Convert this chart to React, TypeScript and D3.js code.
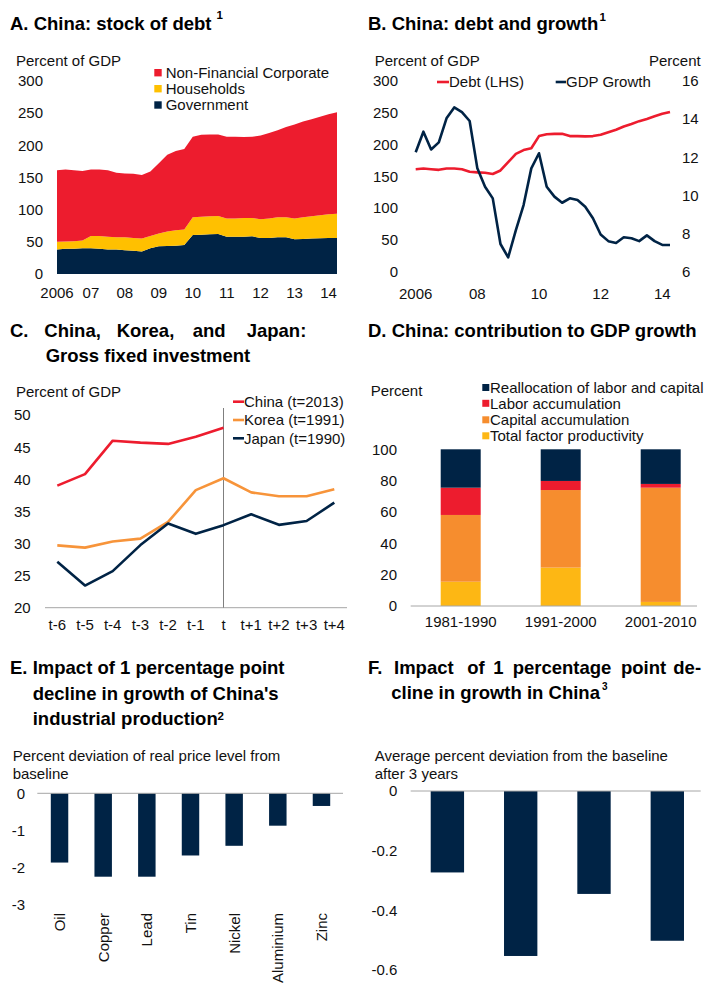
import React from "react";
import * as d3 from "d3";

const FONT = "'Liberation Sans', Arial, Helvetica, sans-serif";
const NAVY = "#002345";
const RED = "#ED1C2E";
const HH_YELLOW = "#FFC000";
const CAP_ORANGE = "#F68D2E";
const TFP_YELLOW = "#FDB714";
const KOREA_ORANGE = "#F7943A";
const AXIS_GREY = "#A6A6A6";
const TXT = "#111111";

// ---------- Panel A / B data (quarterly, 2006Q1 - 2014Q2) ----------
const quarterLabels = [
  "2006Q1", "2006Q2", "2006Q3", "2006Q4",
  "2007Q1", "2007Q2", "2007Q3", "2007Q4",
  "2008Q1", "2008Q2", "2008Q3", "2008Q4",
  "2009Q1", "2009Q2", "2009Q3", "2009Q4",
  "2010Q1", "2010Q2", "2010Q3", "2010Q4",
  "2011Q1", "2011Q2", "2011Q3", "2011Q4",
  "2012Q1", "2012Q2", "2012Q3", "2012Q4",
  "2013Q1", "2013Q2", "2013Q3", "2013Q4",
  "2014Q1", "2014Q2",
];
const governmentDebt = [
  38, 39, 39, 40,
  40, 39, 38, 38,
  37, 36, 35, 40,
  43, 43.5, 44, 45,
  60.5, 61, 61.5, 62,
  58, 58, 58, 58.5,
  56, 56, 57, 57,
  54, 54.5, 55, 55.5,
  56, 56,
];
const householdDebt = [
  12, 11.5, 12, 12,
  19, 20, 20, 19,
  20, 20, 20, 19,
  20, 22.5, 24, 24,
  27.5, 28, 28, 28,
  28, 28, 29, 28.5,
  29, 30, 31, 31,
  32, 33.5, 34.5, 35.5,
  36.6, 37.6,
];
const corporateDebt = [
  111, 111.5, 110, 108,
  103, 103, 103, 100,
  99, 99.5, 98.5, 100,
  109, 119, 123, 125,
  125, 127, 127, 126.5,
  127, 127, 125.5, 126,
  130, 133, 135, 140,
  146, 148.5, 150.5, 153,
  155.4, 157.4,
];
const gdpGrowth = [
  12.25, 13.33, 12.4, 12.77,
  14.03, 14.6, 14.35, 13.89,
  11.41, 10.45, 9.84, 7.45,
  6.75, 8.18, 9.49, 11.41,
  12.2, 10.45, 9.93, 9.61,
  9.84, 9.75, 9.4, 8.8,
  7.95, 7.6, 7.5, 7.8,
  7.75, 7.6, 7.9, 7.6,
  7.4, 7.4,
];
const aSeriesNames = ["Non-Financial Corporate", "Households", "Government"];
const aYTicks = [0, 50, 100, 150, 200, 250, 300];
const aXTickYears = [2006, 2007, 2008, 2009, 2010, 2011, 2012, 2013, 2014];
const aXTickLabels = ["2006", "07", "08", "09", "10", "11", "12", "13", "14"];
const bXTickYears = [2006, 2008, 2010, 2012, 2014];
const bXTickLabels = ["2006", "08", "10", "12", "14"];
const bLeftTicks = [0, 50, 100, 150, 200, 250, 300];
const bRightTicks = [6, 8, 10, 12, 14, 16];

// ---------- Panel C data ----------
const cPeriods = ["t-6", "t-5", "t-4", "t-3", "t-2", "t-1", "t", "t+1", "t+2", "t+3", "t+4"];
const chinaInvestment = [39.0, 40.8, 46.0, 45.7, 45.5, 46.6, 48.0];
const koreaInvestment = [29.7, 29.35, 30.3, 30.75, 33.35, 38.3, 40.15, 37.95, 37.35, 37.35, 38.45];
const japanInvestment = [27.15, 23.45, 25.7, 29.75, 33.1, 31.5, 32.85, 34.55, 32.9, 33.5, 36.35];
const cSeriesNames = ["China (t=2013)", "Korea (t=1991)", "Japan (t=1990)"];
const cYTicks = [20, 25, 30, 35, 40, 45, 50];

// ---------- Panel D data ----------
const dDecades = ["1981-1990", "1991-2000", "2001-2010"];
const tfpShare = [15.5, 24.5, 2.6];
const capitalShare = [42.6, 49.5, 72.9];
const laborShare = [17.4, 5.8, 2.4];
const reallocationShare = [24.5, 20.2, 22.1];
const dLegendNames = [
  "Reallocation of labor and capital",
  "Labor accumulation",
  "Capital accumulation",
  "Total factor productivity",
];
const dYTicks = [0, 20, 40, 60, 80, 100];

// ---------- Panel E data ----------
const commodities = ["Oil", "Copper", "Lead", "Tin", "Nickel", "Aluminium", "Zinc"];
const priceDeviation = [-1.86, -2.24, -2.24, -1.67, -1.41, -0.87, -0.34];
const eYTicks = [0, -1, -2, -3];

// ---------- Panel F data ----------
const fGroups = ["Group 1", "Group 2", "Group 3", "Group 4"];
const fDeviation = [-0.273, -0.553, -0.345, -0.502];
const fYTicks = [0, -0.2, -0.4, -0.6];

const qToNum = (q: string) => +q.slice(0, 4) + (+q.slice(5) - 1) / 4;

const tickStyle = { fontSize: 15, fill: TXT, fontFamily: FONT } as const;
const titleStyle = { fontSize: 18.5, fontWeight: 700, fill: "#000", fontFamily: FONT } as const;

function PanelA() {
  const x = d3.scaleLinear().domain([2006, 2014.25]).range([57, 337]);
  const y = d3.scaleLinear().domain([0, 300]).range([274, 80.7]);
  const rows = quarterLabels.map((q, i) => ({
    t: qToNum(q),
    gov: governmentDebt[i],
    hh: householdDebt[i],
    corp: corporateDebt[i],
  }));
  const stacked = d3.stack<any>().keys(["gov", "hh", "corp"])(rows);
  const area = d3
    .area<any>()
    .x((d) => x(d.data.t))
    .y0((d) => y(d[0]))
    .y1((d) => y(d[1]));
  const colors = [NAVY, HH_YELLOW, RED];
  const legendColors = [RED, HH_YELLOW, NAVY];
  const legendY = [72.7, 88.7, 105];
  return (
    <g>
      <text x={10} y={29.5} style={titleStyle}>A. China: stock of debt</text>
      <text x={216.5} y={18.5} style={{ ...titleStyle, fontSize: 11.5 }}>1</text>
      <text x={16} y={66} style={tickStyle}>Percent of GDP</text>
      {stacked.map((s, i) => (
        <path key={i} d={area(s) || ""} fill={colors[i]} stroke="none" />
      ))}
      {aYTicks.map((v) => (
        <text key={v} x={43} y={y(v)} dy="0.36em" textAnchor="end" style={tickStyle}>{v}</text>
      ))}
      {aXTickYears.map((v, i) => (
        <text key={v} x={x(v)} y={293} dy="0.36em" textAnchor="middle" style={tickStyle}>{aXTickLabels[i]}</text>
      ))}
      {aSeriesNames.map((n, i) => (
        <g key={n}>
          <rect x={154.3} y={legendY[i] - 3.7} width={7.4} height={7.4} fill={legendColors[i]} />
          <text x={165.7} y={legendY[i]} dy="0.36em" style={tickStyle}>{n}</text>
        </g>
      ))}
    </g>
  );
}

function PanelB() {
  const x = d3.scaleLinear().domain([2006, 2014.25]).range([415.7, 670]);
  const yL = d3.scaleLinear().domain([0, 300]).range([271.7, 80.7]);
  const yR = d3.scaleLinear().domain([6, 16]).range([271.7, 80.7]);
  const t = quarterLabels.map(qToNum);
  const total = quarterLabels.map((_, i) => governmentDebt[i] + householdDebt[i] + corporateDebt[i]);
  const debtLine = d3
    .line<number>()
    .x((_, i) => x(t[i]))
    .y((d) => yL(d));
  const gdpLine = d3
    .line<number>()
    .x((_, i) => x(t[i]))
    .y((d) => yR(d));
  return (
    <g>
      <text x={368} y={29.5} style={titleStyle}>B. China: debt and growth</text>
      <text x={599.5} y={20.7} style={{ ...titleStyle, fontSize: 11.5 }}>1</text>
      <text x={374.7} y={65.5} style={tickStyle}>Percent of GDP</text>
      <text x={700.7} y={65.5} textAnchor="end" style={tickStyle}>Percent</text>
      {bLeftTicks.map((v) => (
        <text key={v} x={398} y={yL(v)} dy="0.36em" textAnchor="end" style={tickStyle}>{v}</text>
      ))}
      {bRightTicks.map((v) => (
        <text key={v} x={682} y={yR(v)} dy="0.36em" textAnchor="start" style={tickStyle}>{v}</text>
      ))}
      {bXTickYears.map((v, i) => (
        <text key={v} x={x(v)} y={293.3} dy="0.36em" textAnchor="middle" style={tickStyle}>{bXTickLabels[i]}</text>
      ))}
      <path d={debtLine(total) || ""} fill="none" stroke={RED} strokeWidth={2.6} strokeLinejoin="round" />
      <path d={gdpLine(gdpGrowth) || ""} fill="none" stroke={NAVY} strokeWidth={2.6} strokeLinejoin="round" />
      <line x1={437} x2={449} y1={82} y2={82} stroke={RED} strokeWidth={2.6} />
      <text x={449} y={82} dy="0.36em" style={tickStyle}>Debt (LHS)</text>
      <line x1={555.7} x2={566} y1={82} y2={82} stroke={NAVY} strokeWidth={2.6} />
      <text x={566} y={82} dy="0.36em" style={tickStyle}>GDP Growth</text>
    </g>
  );
}

function PanelC() {
  const x = d3.scalePoint<string>().domain(cPeriods).range([57.3, 334.3]);
  const y = d3.scaleLinear().domain([20, 50]).range([607.7, 415]);
  const line = d3
    .line<number>()
    .x((_, i) => x(cPeriods[i]) as number)
    .y((d) => y(d));
  const series = [chinaInvestment, koreaInvestment, japanInvestment];
  const colors = [RED, KOREA_ORANGE, NAVY];
  const legendY = [401.7, 420, 438.3];
  const tx = x("t") as number;
  return (
    <g>
      <text y={337} style={titleStyle}>
        <tspan x={10}>C.</tspan>
        <tspan x={44.3}>China,</tspan>
        <tspan x={116.7}>Korea,</tspan>
        <tspan x={192.7}>and</tspan>
        <tspan x={246.7}>Japan:</tspan>
      </text>
      <text x={45.7} y={362.3} style={titleStyle}>Gross fixed investment</text>
      <text x={16} y={397} style={tickStyle}>Percent of GDP</text>
      {cYTicks.map((v) => (
        <text key={v} x={30.7} y={y(v)} dy="0.36em" textAnchor="end" style={tickStyle}>{v}</text>
      ))}
      <line x1={45} x2={347} y1={y(20)} y2={y(20)} stroke={AXIS_GREY} strokeWidth={1} />
      <line x1={tx} x2={tx} y1={408} y2={y(20)} stroke="#7F7F7F" strokeWidth={1} />
      {cPeriods.map((p) => (
        <text key={p} x={x(p)} y={625} dy="0.36em" textAnchor="middle" style={tickStyle}>{p}</text>
      ))}
      {series.map((s, i) => (
        <path key={i} d={line(s) || ""} fill="none" stroke={colors[i]} strokeWidth={2.6} strokeLinejoin="round" />
      ))}
      {cSeriesNames.map((n, i) => (
        <g key={n}>
          <line x1={233} x2={244} y1={legendY[i]} y2={legendY[i]} stroke={colors[i]} strokeWidth={2.6} />
          <text x={244} y={legendY[i]} dy="0.36em" style={tickStyle}>{n}</text>
        </g>
      ))}
    </g>
  );
}

function PanelD() {
  const x = d3.scaleBand<string>().domain(dDecades).range([410.7, 710.7]).paddingInner(0.6).paddingOuter(0.3);
  const y = d3.scaleLinear().domain([0, 100]).range([606, 449.3]);
  const rows = dDecades.map((d, i) => ({
    decade: d,
    tfp: tfpShare[i],
    capital: capitalShare[i],
    labor: laborShare[i],
    realloc: reallocationShare[i],
  }));
  const keys = ["tfp", "capital", "labor", "realloc"];
  const stacked = d3.stack<any>().keys(keys)(rows);
  const colors = [TFP_YELLOW, CAP_ORANGE, RED, NAVY];
  const legendColors = [NAVY, RED, CAP_ORANGE, TFP_YELLOW];
  const legendY = [387.5, 403.3, 419.8, 435.8];
  return (
    <g>
      <text x={368} y={337} style={titleStyle}>D. China: contribution to GDP growth</text>
      <text x={370.7} y={395.5} style={tickStyle}>Percent</text>
      {dLegendNames.map((n, i) => (
        <g key={n}>
          <rect x={482.3} y={legendY[i] - 3.5} width={7} height={7} fill={legendColors[i]} />
          <text x={490} y={legendY[i]} dy="0.36em" style={tickStyle}>{n}</text>
        </g>
      ))}
      {dYTicks.map((v) => (
        <text key={v} x={397} y={y(v)} dy="0.36em" textAnchor="end" style={tickStyle}>{v}</text>
      ))}
      {stacked.map((s, i) =>
        s.map((d: any, j: number) => (
          <rect
            key={`${i}-${j}`}
            x={x(d.data.decade)}
            width={x.bandwidth()}
            y={y(d[1])}
            height={y(d[0]) - y(d[1])}
            fill={colors[i]}
          />
        ))
      )}
      <line x1={410.7} x2={697} y1={y(0)} y2={y(0)} stroke={AXIS_GREY} strokeWidth={1} />
      {dDecades.map((d) => (
        <text key={d} x={(x(d) as number) + x.bandwidth() / 2} y={621.7} dy="0.36em" textAnchor="middle" style={tickStyle}>{d}</text>
      ))}
    </g>
  );
}

function PanelE() {
  const x = d3.scaleBand<string>().domain(commodities).range([37.7, 343.3]).paddingInner(0.6).paddingOuter(0.3);
  const y = d3.scaleLinear().domain([-3, 0]).range([905, 793.3]);
  return (
    <g>
      <text x={10} y={674} style={titleStyle}>E.</text>
      <text x={32.7} y={674} style={titleStyle}>Impact of 1 percentage point</text>
      <text x={32.7} y={699.5} style={titleStyle}>decline in growth of China's</text>
      <text x={32.7} y={724.5} style={titleStyle}>industrial production</text>
      <text x={217.5} y={720} style={{ ...titleStyle, fontSize: 11.5 }}>2</text>
      <text x={12.7} y={760.5} style={tickStyle}>Percent deviation of real price level from</text>
      <text x={12.7} y={778.7} style={tickStyle}>baseline</text>
      {eYTicks.map((v) => (
        <text key={v} x={25} y={y(v)} dy="0.36em" textAnchor="end" style={tickStyle}>{v}</text>
      ))}
      {commodities.map((c, i) => (
        <rect
          key={c}
          x={x(c)}
          width={x.bandwidth()}
          y={y(0)}
          height={y(priceDeviation[i]) - y(0)}
          fill={NAVY}
        />
      ))}
      <line x1={37.3} x2={343} y1={y(0)} y2={y(0)} stroke={AXIS_GREY} strokeWidth={1} />
      {commodities.map((c) => {
        const cx = (x(c) as number) + x.bandwidth() / 2;
        return (
          <text
            key={c}
            transform={`translate(${cx},913) rotate(-90)`}
            dy="0.36em"
            textAnchor="end"
            style={tickStyle}
          >
            {c}
          </text>
        );
      })}
    </g>
  );
}

function PanelF() {
  const x = d3.scaleBand<string>().domain(fGroups).range([410.7, 704]).paddingInner(0.545).paddingOuter(0.273);
  const y = d3.scaleLinear().domain([-0.6, 0]).range([970, 791]);
  return (
    <g>
      <text y={674} style={titleStyle}>
        <tspan x={368}>F.</tspan>
        <tspan x={394}>Impact</tspan>
        <tspan x={467.3}>of</tspan>
        <tspan x={493.3}>1</tspan>
        <tspan x={512.7}>percentage</tspan>
        <tspan x={621}>point</tspan>
        <tspan x={673.3}>de-</tspan>
      </text>
      <text x={391.3} y={698.5} style={titleStyle}>cline in growth in China</text>
      <text x={602} y={689.5} style={{ ...titleStyle, fontSize: 10 }}>3</text>
      <text x={374.7} y={761} style={tickStyle}>Average percent deviation from the baseline</text>
      <text x={374.7} y={778.7} style={tickStyle}>after 3 years</text>
      {fYTicks.map((v) => (
        <text key={v} x={397.3} y={y(v)} dy="0.36em" textAnchor="end" style={tickStyle}>{v}</text>
      ))}
      {fGroups.map((g, i) => (
        <rect
          key={g}
          x={x(g)}
          width={x.bandwidth()}
          y={y(0)}
          height={y(fDeviation[i]) - y(0)}
          fill={NAVY}
        />
      ))}
      <line x1={410.7} x2={700.7} y1={y(0)} y2={y(0)} stroke={AXIS_GREY} strokeWidth={1} />
    </g>
  );
}

export default function App() {
  return (
    <svg
      width={708}
      height={983}
      viewBox="0 0 708 983"
      style={{ position: "absolute", left: 0, top: 0, background: "#ffffff", fontFamily: FONT }}
    >
      <rect x={0} y={0} width={708} height={983} fill="#ffffff" />
      <PanelA />
      <PanelB />
      <PanelC />
      <PanelD />
      <PanelE />
      <PanelF />
    </svg>
  );
}
